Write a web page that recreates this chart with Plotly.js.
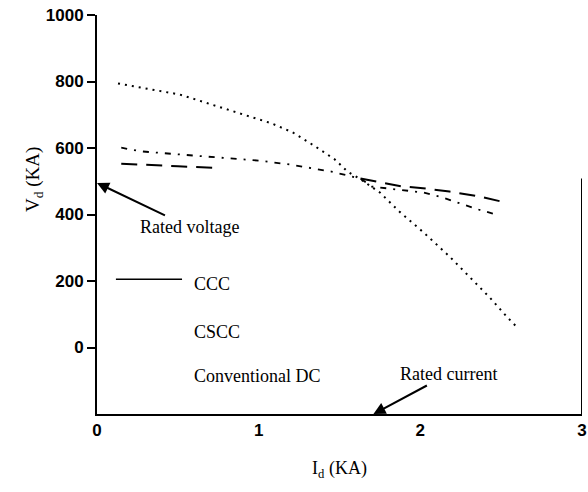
<!DOCTYPE html>
<html>
<head>
<meta charset="utf-8">
<script src="https://cdn.plot.ly/plotly-3.0.1.min.js"></script>
<style>html,body{margin:0;padding:0;background:#fff;}#chart{width:588px;height:492px;}</style>
</head>
<body>
<div id="chart"></div>
<script>
// Id (KA) vs Vd for the three schemes
const cccX  = [0.15, 0.30, 0.50, 0.75, 1.20, 1.63, 1.75, 1.89, 2.00, 2.18, 2.37, 2.50];
const cccY  = [553, 549, 545, 540, null, 508, 497, 484, 480, 469, 454, 439];
const csccX = [0.15, 0.27, 0.50, 0.75, 1.00, 1.20, 1.45, 1.63, 1.70, 2.02, 2.14, 2.21, 2.36, 2.49];
const csccY = [601, 590, 581, 572, 562, 550, 529, 508, 484, 466, 451, 439, 415, 397];
const convX = [0.13, 0.27, 0.39, 0.51, 0.59, 0.75, 0.95, 1.08, 1.21, 1.34, 1.47, 1.55, 1.63, 1.75, 1.87, 2.02, 2.18, 2.31, 2.43, 2.54, 2.60];
const convY = [794, 782, 770, 761, 749, 725, 695, 674, 647, 608, 566, 529, 506, 466, 409, 346, 274, 211, 150, 90, 60];
const xTicks = [0, 1, 2, 3];
const yTicks = [0, 200, 400, 600, 800, 1000];
const seriesNames = ['CCC', 'CSCC', 'Conventional DC'];
const ratedVoltage = 495;
const ratedCurrent = 1.71;

const serif = 'Liberation Serif, Times New Roman, serif';
const traces = [
  {x: cccX, y: cccY, name: seriesNames[0], mode: 'lines', connectgaps: false,
   line: {color: '#000', width: 2, dash: '16px,9px'}},
  {x: csccX, y: csccY, name: seriesNames[1], mode: 'lines',
   line: {color: '#000', width: 1.8, dash: '6px,7px,2px,7px'}},
  {x: convX, y: convY, name: seriesNames[2], mode: 'lines',
   line: {color: '#000', width: 2, dash: '2px,5px'}}
];

const layout = {
  width: 588, height: 492,
  margin: {l: 97, r: 6, t: 15, b: 78},
  paper_bgcolor: '#fff', plot_bgcolor: '#fff',
  showlegend: false,
  font: {family: serif, color: '#000'},
  xaxis: {
    range: [0, 3], tickvals: xTicks, ticktext: xTicks.map(String),
    showgrid: false, zeroline: false, showline: true, linecolor: '#000', linewidth: 2,
    ticks: '', tickfont: {family: 'Liberation Sans, Arial, sans-serif', size: 17, weight: 'bold'},
    title: {text: 'I<sub>d</sub> (KA)', font: {family: serif, size: 18}, standoff: 22}
  },
  yaxis: {
    range: [-200, 1000], tickvals: yTicks, ticktext: yTicks.map(String),
    showgrid: false, zeroline: false, showline: true, linecolor: '#000', linewidth: 2,
    ticks: 'outside', ticklen: 8, tickwidth: 2, tickcolor: '#000',
    tickfont: {family: 'Liberation Sans, Arial, sans-serif', size: 17, weight: 'bold'}
  },
  shapes: [
    {type: 'line', xref: 'x', yref: 'paper', x0: 3, x1: 3, y0: 0, y1: 0.59,
     line: {color: '#000', width: 2}},
    {type: 'line', xref: 'x', yref: 'y', x0: 0.117, x1: 0.526, y0: 205, y1: 205,
     line: {color: '#000', width: 1.5}}
  ],
  annotations: [
    {x: 0, y: 0, xref: 'paper', yref: 'paper', text: 'V<sub>d</sub> (KA)', showarrow: false,
     textangle: -90, font: {family: serif, size: 19}},
    {x: 0.587, y: 190, xref: 'x', yref: 'y', text: seriesNames[0], showarrow: false,
     xanchor: 'left', font: {family: serif, size: 18}},
    {x: 0.587, y: 48, xref: 'x', yref: 'y', text: seriesNames[1], showarrow: false,
     xanchor: 'left', font: {family: serif, size: 18}},
    {x: 0.587, y: -87, xref: 'x', yref: 'y', text: seriesNames[2], showarrow: false,
     xanchor: 'left', font: {family: serif, size: 18}},
    {x: 0, y: ratedVoltage, xref: 'x', yref: 'y', text: 'Rated voltage', showarrow: true,
     ax: 92, ay: 44, arrowhead: 2, arrowsize: 1.2, arrowwidth: 2, arrowcolor: '#000',
     font: {family: serif, size: 18}},
    {x: ratedCurrent, y: -200, xref: 'x', yref: 'y', text: 'Rated current', showarrow: true,
     ax: 75, ay: -40, arrowhead: 2, arrowsize: 1.2, arrowwidth: 2, arrowcolor: '#000',
     font: {family: serif, size: 18}}
  ]
};
// place the rotated y title by pixel position (x=20px, y=180px from top)
layout.annotations[0].x = (20 - layout.margin.l) / (layout.width - layout.margin.l - layout.margin.r);
layout.annotations[0].y = (layout.height - layout.margin.b - 180) / (layout.height - layout.margin.t - layout.margin.b);

Plotly.newPlot('chart', traces, layout, {displayModeBar: false, staticPlot: true});
</script>
</body>
</html>
